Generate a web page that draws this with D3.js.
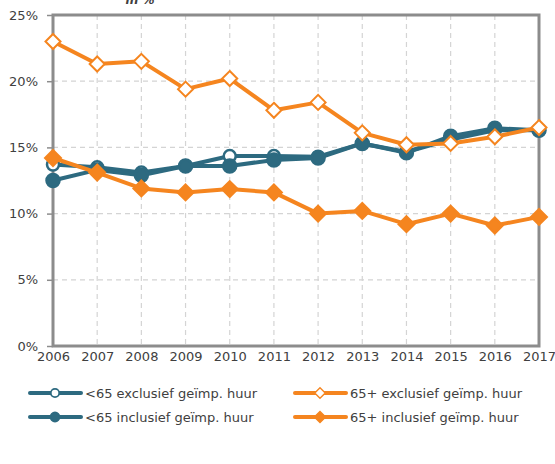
<!DOCTYPE html>
<html><head><meta charset="utf-8">
<script src="https://cdn.jsdelivr.net/npm/d3@7"></script>
<style>body{margin:0;background:#fff}svg{display:block}text{font-family:"DejaVu Sans",sans-serif;fill:#404040}</style>
</head><body><svg id="c" width="555" height="464"></svg>
<script>
const years = [2006,2007,2008,2009,2010,2011,2012,2013,2014,2015,2016,2017];
const yTicks = [0,5,10,15,20,25];
const under65Excl = [13.7,13.5,13.1,13.6,14.35,14.35,14.3,15.3,14.65,15.6,16.3,16.3];
const under65Incl = [12.5,13.3,12.9,13.6,13.6,14.05,14.2,15.3,14.6,15.85,16.45,16.3];
const over65Excl  = [23.0,21.3,21.5,19.4,20.2,17.8,18.4,16.1,15.2,15.3,15.8,16.5];
const over65Incl  = [14.2,13.1,11.9,11.6,11.85,11.6,10.0,10.2,9.2,10.0,9.1,9.75];
const seriesNames = ["<65 exclusief geïmp. huur","65+ exclusief geïmp. huur","<65 inclusief geïmp. huur","65+ inclusief geïmp. huur"];
const teal="#2d6a80", orange="#f5851f";
const series = [
 {name:seriesNames[0], vals:under65Excl, color:teal, shape:"circle", filled:false},
 {name:seriesNames[2], vals:under65Incl, color:teal, shape:"circle", filled:true},
 {name:seriesNames[1], vals:over65Excl, color:orange, shape:"diamond", filled:false},
 {name:seriesNames[3], vals:over65Incl, color:orange, shape:"diamond", filled:true}
];
const svg=d3.select("#c");
const L=53,R=539,T=15,B=346;
const x=d3.scaleLinear().domain([2006,2017]).range([L,R]);
const y=d3.scaleLinear().domain([0,25]).range([B,T]);

svg.append("text").attr("x",140).attr("y",4).attr("text-anchor","middle")
 .style("font-weight","bold").style("font-style","italic").style("font-size","12px").text("in %");

// grid
const g=svg.append("g");
g.selectAll(".hg").data(yTicks.slice(1,-1)).join("line")
 .attr("x1",L).attr("x2",R).attr("y1",d=>y(d)).attr("y2",d=>y(d))
 .attr("stroke","#d4d4d4").attr("stroke-width",1.2).attr("stroke-dasharray","5,4");
g.selectAll(".vg").data(years.slice(1,-1)).join("line")
 .attr("x1",d=>x(d)).attr("x2",d=>x(d)).attr("y1",T).attr("y2",B)
 .attr("stroke","#d4d4d4").attr("stroke-width",1.2).attr("stroke-dasharray","5,4");

// axes
const yAx=svg.append("g").attr("transform",`translate(${L},0)`)
 .call(d3.axisLeft(y).tickValues(yTicks).tickFormat(d=>d+"%").tickSize(6).tickPadding(9));
yAx.select(".domain").remove();
yAx.selectAll(".tick line").attr("stroke","#8c8c8c").attr("stroke-width",1.5);
yAx.selectAll("text").style("font-size","13px").style("fill","#404040");
const xAx=svg.append("g").attr("transform",`translate(0,${B})`)
 .call(d3.axisBottom(x).tickValues(years).tickFormat(d3.format("d")).tickSize(0).tickPadding(6));
xAx.select(".domain").remove();
xAx.selectAll("text").style("font-size","13px").style("fill","#404040");
// frame
svg.append("rect").attr("x",L).attr("y",T).attr("width",R-L).attr("height",B-T)
 .attr("fill","none").attr("stroke","#8c8c8c").attr("stroke-width",3);

const line=d3.line().x((d,i)=>x(years[i])).y(d=>y(d));
function marker(sel,s,cx,cy,scale){
 if(s.shape==="circle"){
  sel.append("circle").attr("cx",cx).attr("cy",cy).attr("r",(s.filled?6.5:6)*scale)
   .attr("fill",s.filled?s.color:"#fff").attr("stroke",s.color).attr("stroke-width",2.5*scale);
 } else {
  const r=(s.filled?8:7.5)*scale;
  sel.append("path").attr("d",`M${cx},${cy-r}L${cx+r},${cy}L${cx},${cy+r}L${cx-r},${cy}Z`)
   .attr("fill",s.filled?s.color:"#fff").attr("stroke",s.color).attr("stroke-width",2*scale);
 }
}
const plot=svg.append("g");
series.forEach(s=>{
 plot.append("path").datum(s.vals).attr("d",line).attr("fill","none")
  .attr("stroke",s.color).attr("stroke-width",4).attr("stroke-linejoin","round");
 s.vals.forEach((v,i)=>marker(plot,s,x(years[i]),y(v),1));
});

// legend
const leg=[
 {s:series[0],lx:30,ly:393},{s:series[2],lx:295,ly:393},
 {s:series[1],lx:30,ly:417},{s:series[3],lx:295,ly:417}
];
leg.forEach(o=>{
 const gg=svg.append("g");
 gg.append("line").attr("x1",o.lx).attr("x2",o.lx+51).attr("y1",o.ly).attr("y2",o.ly)
  .attr("stroke",o.s.color).attr("stroke-width",4).attr("stroke-linecap","round");
 marker(gg,o.s,o.lx+25,o.ly,0.7);
 gg.append("text").attr("x",o.lx+55).attr("y",o.ly+5).style("font-size","13px").text(o.s.name);
});
</script></body></html>
